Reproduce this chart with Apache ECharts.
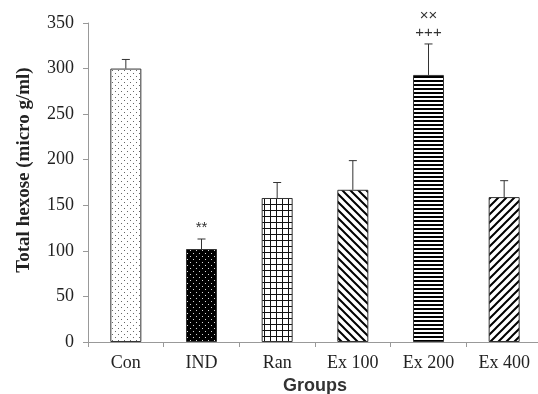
<!DOCTYPE html>
<html>
<head>
<meta charset="utf-8">
<script src="https://cdn.jsdelivr.net/npm/echarts@6/dist/echarts.min.js"></script>
<style>
  html, body { margin: 0; padding: 0; background: #fff; }
  #main { width: 538px; height: 394px; }
</style>
</head>
<body>
<div id="main"></div>
<script>
// data
const groups = ['Con', 'IND', 'Ran', 'Ex 100', 'Ex 200', 'Ex 400']
const means = [300, 102, 158, 167, 293, 159]
const errTops = [310, 113, 175, 199, 327, 177]
const marks = ['', '**', '', '', '××\n+++', '']

// patterns for the bars
function makePattern(kind) {
  let c = document.createElement('canvas')
  let ctx = c.getContext('2d')
  if (kind === 'dots') {
    c.width = 6; c.height = 6
    ctx.fillStyle = '#fff'; ctx.fillRect(0, 0, 6, 6)
    ctx.fillStyle = '#666'; ctx.fillRect(1, 1, 1, 1); ctx.fillRect(4, 4, 1, 1)
  } else if (kind === 'blackdots') {
    c.width = 6; c.height = 6
    ctx.fillStyle = '#000'; ctx.fillRect(0, 0, 6, 6)
    ctx.fillStyle = '#ddd'; ctx.fillRect(1, 1, 1, 1); ctx.fillRect(4, 4, 1, 1)
  } else if (kind === 'grid') {
    c.width = 6; c.height = 6
    ctx.fillStyle = '#fff'; ctx.fillRect(0, 0, 6, 6)
    ctx.fillStyle = '#111'; ctx.fillRect(0, 0, 6, 1); ctx.fillRect(0, 0, 1, 6)
  } else if (kind === 'hlines') {
    c.width = 4; c.height = 4
    ctx.fillStyle = '#fff'; ctx.fillRect(0, 0, 4, 4)
    ctx.fillStyle = '#000'; ctx.fillRect(0, 0, 4, 2)
  } else {
    // diagonals
    c.width = 8; c.height = 8
    ctx.fillStyle = '#fff'; ctx.fillRect(0, 0, 8, 8)
    ctx.strokeStyle = '#000'; ctx.lineWidth = 2
    ctx.beginPath()
    if (kind === 'back') {
      ctx.moveTo(-2, -2); ctx.lineTo(10, 10)
      ctx.moveTo(-2, 6); ctx.lineTo(2, 10)
      ctx.moveTo(6, -2); ctx.lineTo(10, 2)
    } else {
      ctx.moveTo(-2, 10); ctx.lineTo(10, -2)
      ctx.moveTo(-2, 2); ctx.lineTo(2, -2)
      ctx.moveTo(6, 10); ctx.lineTo(10, 6)
    }
    ctx.stroke()
  }
  return { image: c, repeat: 'repeat' }
}
const patternKinds = ['dots', 'blackdots', 'grid', 'back', 'hlines', 'fwd']

let myChart = echarts.init(document.getElementById('main'))
let option = {
  animation: false,
  backgroundColor: '#fff',
  grid: { left: 88, right: -4, top: 23, bottom: 52, outerBoundsMode: 'none', containLabel: false },
  // y axis title sits a bit above the plot centre in the original
  graphic: [{
    type: 'text',
    x: 24, y: 170,
    rotation: Math.PI / 2,
    style: {
      text: 'Total hexose (micro g/ml)',
      align: 'center', verticalAlign: 'middle',
      fill: '#222', font: 'bold 19px Liberation Serif'
    }
  }],
  xAxis: {
    type: 'category',
    data: groups,
    axisLine: { lineStyle: { color: '#999' } },
    axisTick: { show: true, length: 5, lineStyle: { color: '#999' } },
    axisLabel: { color: '#222', fontFamily: 'Liberation Serif', fontSize: 18, margin: 12 },
    name: 'Groups',
    nameLocation: 'middle',
    nameGap: 34,
    nameTextStyle: { color: '#333', fontFamily: 'Liberation Sans', fontWeight: 'bold', fontSize: 18 }
  },
  yAxis: {
    type: 'value',
    min: 0, max: 350, interval: 50,
    axisLine: { show: true, lineStyle: { color: '#999' } },
    axisTick: { show: true, length: 5, lineStyle: { color: '#999' } },
    splitLine: { show: false },
    axisLabel: { color: '#222', fontFamily: 'Liberation Serif', fontSize: 18, margin: 14 }
  },
  series: [
    {
      type: 'bar',
      barWidth: 31,
      data: means.map((v, i) => ({
        value: v,
        itemStyle: { color: makePattern(patternKinds[i]), borderColor: '#333', borderWidth: 1 }
      }))
    },
    {
      type: 'custom',
      z: 5,
      data: means.map((v, i) => [i, v, errTops[i]]),
      renderItem: function (params, api) {
        let base = api.coord([api.value(0), api.value(1)])
        let top = api.coord([api.value(0), api.value(2)])
        let i = params.dataIndex
        let children = [
          { type: 'line', shape: { x1: base[0], y1: base[1], x2: top[0], y2: top[1] }, style: { stroke: '#333', lineWidth: 1 } },
          { type: 'line', shape: { x1: top[0] - 4, y1: top[1], x2: top[0] + 4, y2: top[1] }, style: { stroke: '#333', lineWidth: 1 } }
        ]
        if (marks[i]) {
          children.push({
            type: 'text',
            style: {
              text: marks[i], x: top[0], y: top[1] - 3,
              align: 'center', verticalAlign: 'bottom',
              fill: '#333', font: '15px Liberation Sans', lineHeight: 17
            }
          })
        }
        return { type: 'group', children }
      }
    }
  ]
}
myChart.setOption(option)
</script>
</body>
</html>
